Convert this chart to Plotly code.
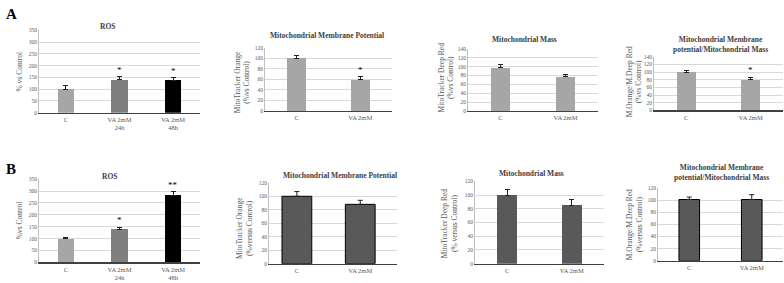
import plotly.graph_objects as go

W, H = 784, 283

# ---------------- data ----------------
ros_cats = ["C", "VA 2mM<br>24h", "VA 2mM<br>48h"]
two_cats = ["C", "VA 2mM"]

ros_a_vals = [100, 140, 137]
ros_a_err = [14, 12, 12]
ros_a_sig = ["", "*", "*"]

mmp_a_vals = [100, 59]
mmp_a_err = [5, 6]
mmp_a_sig = ["", "*"]

mass_a_vals = [98, 77]
mass_a_err = [6, 5]
mass_a_sig = ["", ""]

ratio_a_vals = [100, 80]
ratio_a_err = [5, 6]
ratio_a_sig = ["", "*"]

ros_b_vals = [100, 140, 283]
ros_b_err = [5, 8, 15]
ros_b_sig = ["", "*", "**"]

mmp_b_vals = [100, 88]
mmp_b_err = [7, 6]
mmp_b_sig = ["", ""]

mass_b_vals = [100, 85]
mass_b_err = [8, 8]
mass_b_sig = ["", ""]

ratio_b_vals = [101, 101]
ratio_b_err = [4, 8]
ratio_b_sig = ["", ""]

ros_colors = ["#a6a6a6", "#7f7f7f", "#000000"]
FONT = "Liberation Serif, Times New Roman, serif"

fig = go.Figure()
annotations = []
layout = {}


def px_x(p):
    return p / W


def px_y(p):
    return 1 - p / H


def panel(i, cats, vals, errs, sigs, colors, xpx, ypx, ymax, dtick, bw,
          title, title_pos, ytitle, ytitle_pos, xrange=None, outline=False):
    xa = "x" if i == 1 else f"x{i}"
    ya = "y" if i == 1 else f"y{i}"
    fig.add_trace(go.Bar(
        x=cats, y=vals, xaxis=xa, yaxis=ya, width=bw,
        marker=dict(color=colors,
                    line=dict(color="#000000" if outline else "rgba(0,0,0,0)",
                              width=1 if outline else 0)),
        error_y=dict(type="data", symmetric=False, array=errs,
                     arrayminus=[0] * len(errs), color="#222222",
                     thickness=1, width=2.5),
        showlegend=False, hoverinfo="skip"))
    xkey = "xaxis" if i == 1 else f"xaxis{i}"
    ykey = "yaxis" if i == 1 else f"yaxis{i}"
    xd = dict(domain=[px_x(xpx[0]), px_x(xpx[1])], anchor=ya,
              type="category", showgrid=False, showline=True,
              linecolor="#404040", linewidth=1.5, ticks="",
              tickfont=dict(family=FONT, size=6.5, color="#595959"),
              fixedrange=True)
    if xrange is not None:
        xd["range"] = xrange
    layout[xkey] = xd
    layout[ykey] = dict(domain=[px_y(ypx[1]), px_y(ypx[0])], anchor=xa,
                        range=[0, ymax], dtick=dtick, showgrid=True,
                        gridcolor="#d9d9d9", gridwidth=1, showline=True,
                        linecolor="#bfbfbf", linewidth=1, ticks="",
                        zeroline=False,
                        tickfont=dict(family=FONT, size=5.5, color="#595959"),
                        fixedrange=True)
    # significance marks
    for c, v, e, s in zip(cats, vals, errs, sigs):
        if s:
            annotations.append(dict(x=c, y=v + e, xref=xa, yref=ya, text=s,
                                    showarrow=False, yanchor="bottom", yshift=0,
                                    font=dict(family=FONT, size=9, color="#000000")))
    annotations.append(dict(x=px_x(title_pos[0]), y=px_y(title_pos[1]),
                            xref="paper", yref="paper", text=title,
                            showarrow=False, xanchor="center", yanchor="middle",
                            font=dict(family=FONT, size=7.5, color="#404040")))
    annotations.append(dict(x=px_x(ytitle_pos[0]), y=px_y(ytitle_pos[1]),
                            xref="paper", yref="paper", text=ytitle,
                            showarrow=False, textangle=-90,
                            xanchor="center", yanchor="middle",
                            font=dict(family=FONT, size=7.5, color="#595959")))


light = ["#a6a6a6", "#a6a6a6"]
dark = ["#595959", "#595959"]

panel(1, ros_cats, ros_a_vals, ros_a_err, ros_a_sig, ros_colors,
      (39, 200), (28, 112), 350, 50, 0.31,
      "<b>ROS</b>", (108, 24), "% vs Control", (20, 70))
panel(2, two_cats, mmp_a_vals, mmp_a_err, mmp_a_sig, light,
      (265, 392), (45.7, 110.3), 120, 20, 0.3,
      "<b>Mitochondrial Membrane Potential</b>", (327, 33),
      "MitoTracker Orange<br>(%vs Control)", (242, 81))
panel(3, two_cats, mass_a_vals, mass_a_err, mass_a_sig, light,
      (468, 598), (47, 110.3), 140, 20, 0.3,
      "<b>Mitochondrial Mass</b>", (524, 37.3),
      "MitoTracker Deep Red<br>(%vs Control)", (446, 76))
panel(4, two_cats, ratio_a_vals, ratio_a_err, ratio_a_sig, light,
      (654, 783), (55, 109.7), 140, 20, 0.3,
      "<b>Mitochondrial Membrane<br>potential/Mitochondrial Mass</b>", (720, 42),
      "M.Orange/M.Deep Red<br>(%vs Control)", (634, 81))

panel(5, ros_cats, ros_b_vals, ros_b_err, ros_b_sig, ros_colors,
      (39, 200), (180, 265), 350, 50, 0.31,
      "<b>ROS</b>", (109, 177), "%vs Control", (19, 222))
panel(6, two_cats, mmp_b_vals, mmp_b_err, mmp_b_sig, dark,
      (269, 397), (183.7, 266.3), 120, 20, 0.47,
      "<b>Mitochondrial Membrane Potential</b>", (340, 176.7),
      "MitoTracker Orange<br>(%versus Control)", (244, 230),
      xrange=[-0.44, 1.58], outline=True)
panel(7, two_cats, mass_b_vals, mass_b_err, mass_b_sig, dark,
      (475, 604), (182.3, 266.3), 120, 20, 0.31,
      "<b>Mitochondrial Mass</b>", (531, 174),
      "MitoTracker Deep Red<br>(% versus Control)", (449, 225))
panel(8, two_cats, ratio_b_vals, ratio_b_err, ratio_b_sig, dark,
      (658, 783), (189, 263.3), 120, 20, 0.33,
      "<b>Mitochondrial Membrane<br>potential/Mitochondrial Mass</b>", (721, 173.5),
      "M.Orange/M.Deep Red<br>(%versus Control)", (634, 227), outline=True)

annotations.append(dict(x=px_x(4), y=px_y(11), xref="paper", yref="paper",
                        text="<b>A</b>", showarrow=False, xanchor="left",
                        yanchor="middle",
                        font=dict(family=FONT, size=15, color="#000000")))
annotations.append(dict(x=px_x(4), y=px_y(170), xref="paper", yref="paper",
                        text="<b>B</b>", showarrow=False, xanchor="left",
                        yanchor="middle",
                        font=dict(family=FONT, size=15, color="#000000")))

fig.update_layout(width=W, height=H, margin=dict(l=0, r=0, t=0, b=0),
                  paper_bgcolor="white", plot_bgcolor="white",
                  annotations=annotations, bargap=0, **layout)

fig.write_html("out.html",
               config={"displayModeBar": False, "staticPlot": True},
               post_script="document.body.style.margin='0';"
                           "document.body.style.padding='0';"
                           "document.body.style.overflow='hidden';")
